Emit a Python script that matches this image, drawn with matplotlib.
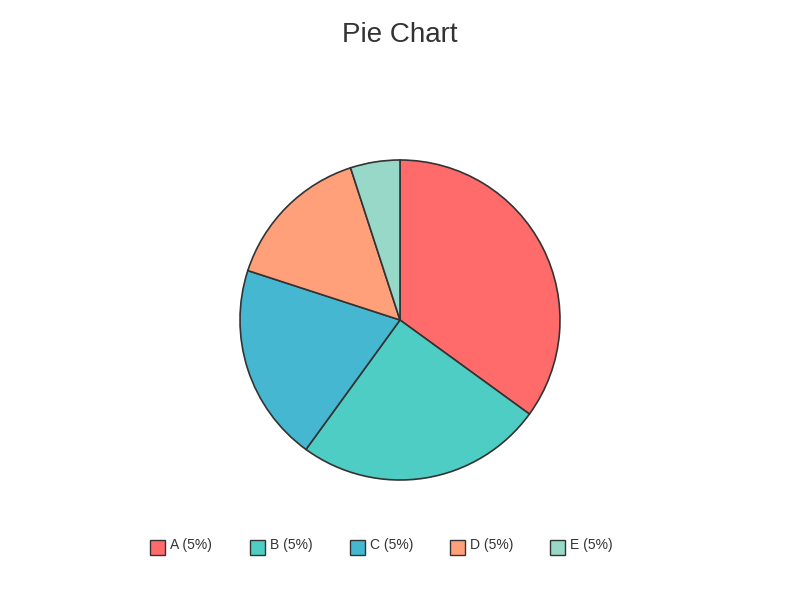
import matplotlib
matplotlib.use("Agg")
import matplotlib.pyplot as plt
from matplotlib.patches import Rectangle

labels = ["A", "B", "C", "D", "E"]
values = [35, 25, 20, 15, 5]
legend_text = ["A (5%)", "B (5%)", "C (5%)", "D (5%)", "E (5%)"]
colors = ["#FF6B6B", "#4ECDC4", "#45B7D1", "#FFA07A", "#98D8C8"]

plt.rcParams["font.family"] = ["Liberation Sans", "DejaVu Sans"]

fig = plt.figure(figsize=(8, 6), dpi=100)
ax = fig.add_axes([240 / 800, 120 / 600, 320 / 800, 320 / 600])
ax.pie(values, colors=colors, startangle=90, counterclock=False, radius=1,
       wedgeprops=dict(edgecolor="#333333", linewidth=1.2))
ax.set_xlim(-1, 1)
ax.set_ylim(-1, 1)
ax.set_aspect("equal")
ax.axis("off")

fig.text(0.5, 1 - 35 / 600, "Pie Chart", ha="center", va="center",
         fontsize=20, color="#333333")

# legend row along the bottom
for i, (txt, c) in enumerate(zip(legend_text, colors)):
    x0 = (150 + 100 * i) / 800
    fig.patches.append(Rectangle((x0, 1 - 555 / 600), 15 / 800, 15 / 600,
                                 transform=fig.transFigure, facecolor=c,
                                 edgecolor="#333333", linewidth=1))
    fig.text(x0 + 20 / 800, 1 - 545 / 600, txt, ha="left", va="center",
             fontsize=10, color="#333333")

fig.savefig("out.png", dpi=100)
